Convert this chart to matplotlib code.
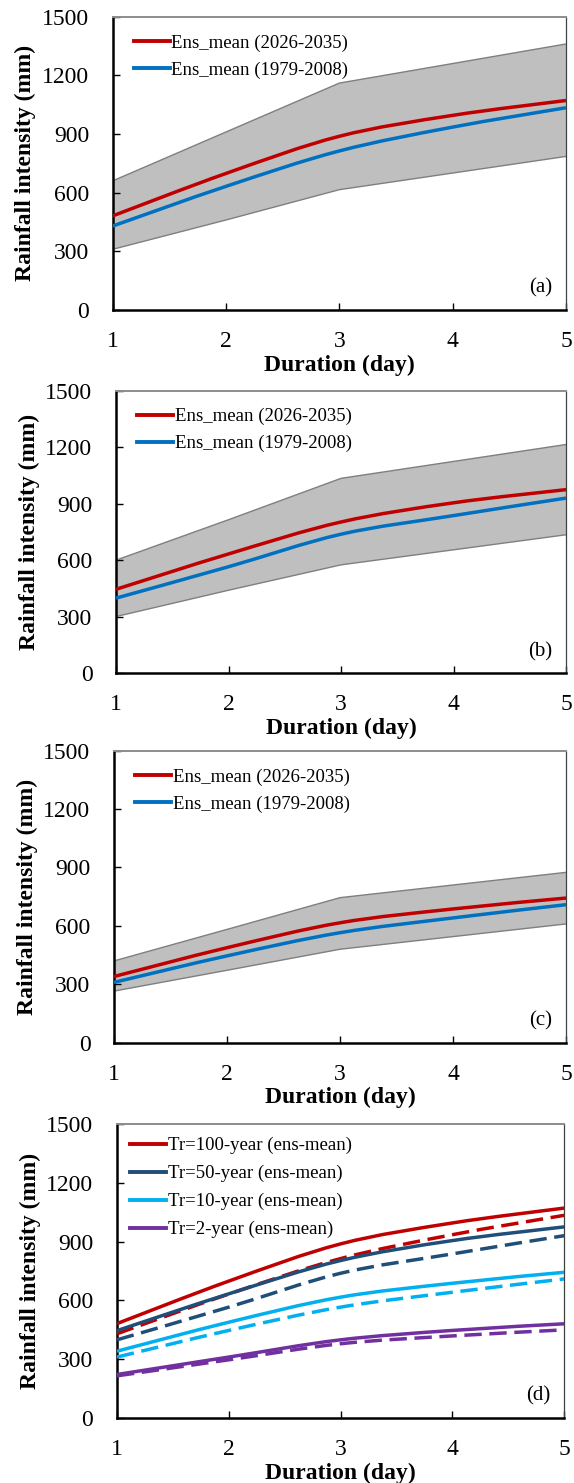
import numpy as np
import matplotlib.pyplot as plt
from matplotlib.path import Path
from matplotlib.patches import PathPatch
from matplotlib.lines import Line2D

plt.rcParams['font.family'] = ['Liberation Serif', 'DejaVu Serif']

# Duration (day)
days = [1, 2, 3, 4, 5]

# Panel (a): Tr = 100-year
a_future = [481, 698, 888, 995, 1071]
a_hist = [429, 632, 813, 935, 1034]
a_upper = [660, 910, 1160, 1260, 1360]
a_lower = [310, 460, 615, 700, 785]

# Panel (b): Tr = 50-year
b_future = [445, 633, 803, 905, 975]
b_hist = [398, 565, 738, 837, 930]
b_upper = [600, 815, 1035, 1125, 1215]
b_lower = [300, 440, 575, 655, 735]

# Panel (c): Tr = 10-year
c_future = [340, 488, 616, 687, 743]
c_hist = [310, 446, 565, 641, 709]
c_upper = [420, 582, 745, 810, 875]
c_lower = [265, 372, 480, 545, 610]

# Panel (d): Tr = 2-year (the others reuse panels a-c)
d2_future = [221, 310, 398, 446, 480]
d2_hist = [214, 296, 378, 418, 449]

red = '#C00000'
blue = '#0070C0'
navy = '#1F4E79'
cyan = '#00B0F0'
purple = '#7030A0'

fs_tick = 17
fs_leg = 13.5


def smooth_line(ax, x, y, color, ls='-', lw=2.5):
    # Excel-style smoothed line drawn as cubic bezier path
    x = np.asarray(x, float)
    y = np.asarray(y, float)
    pts = np.column_stack([x, y])
    n = len(pts)
    verts = [pts[0]]
    codes = [Path.MOVETO]
    for i in range(n - 1):
        p0 = pts[i - 1] if i > 0 else pts[i]
        p1 = pts[i]
        p2 = pts[i + 1]
        p3 = pts[i + 2] if i + 2 < n else pts[i + 1]
        c1 = p1 + (p2 - p0) / 6.0
        c2 = p2 - (p3 - p1) / 6.0
        verts += [c1, c2, p2]
        codes += [Path.CURVE4] * 3
    patch = PathPatch(Path(verts, codes), facecolor='none', edgecolor=color,
                      lw=lw, linestyle=ls, capstyle='butt', zorder=3)
    ax.add_patch(patch)


def style_axes(ax, tag):
    ax.set_xlim(1, 5)
    ax.set_ylim(0, 1500)
    ax.set_xticks([1, 2, 3, 4, 5])
    ax.set_yticks([0, 300, 600, 900, 1200, 1500])
    ax.tick_params(direction='in', length=5, width=1, labelsize=fs_tick)
    ax.tick_params(axis='y', pad=17)
    ax.tick_params(axis='x', pad=15)
    ax.spines['left'].set_linewidth(1.8)
    ax.spines['bottom'].set_linewidth(1.8)
    ax.spines['top'].set_color('#8C8C8C')
    ax.spines['top'].set_linewidth(1.4)
    ax.spines['right'].set_color('#404040')
    ax.spines['right'].set_linewidth(0.9)
    ax.set_xlabel('Duration (day)', fontsize=17, fontweight='bold', labelpad=2)
    ax.set_ylabel('Rainfall intensity (mm)', fontsize=17, fontweight='bold', labelpad=4)
    ax.text(0.97, 0.075, tag, transform=ax.transAxes, ha='right', va='center', fontsize=15)


def band_panel(ax, future, hist, upper, lower, tag):
    ax.fill_between(days, lower, upper, facecolor='#BFBFBF', edgecolor='none', zorder=1)
    ax.plot(days, upper, color='#7F7F7F', lw=1, zorder=2)
    ax.plot(days, lower, color='#7F7F7F', lw=1, zorder=2)
    smooth_line(ax, days, future, red)
    smooth_line(ax, days, hist, blue)
    handles = [Line2D([], [], color=red, lw=2.8), Line2D([], [], color=blue, lw=2.8)]
    ax.legend(handles, ['Ens_mean (2026-2035)', 'Ens_mean (1979-2008)'],
              loc='upper left', bbox_to_anchor=(0.047, 0.939), frameon=False,
              fontsize=fs_leg, handlelength=1.9, handletextpad=0.1,
              labelspacing=0.51, borderpad=0, borderaxespad=0)
    style_axes(ax, tag)


fig = plt.figure(figsize=(5.74, 14.83), dpi=100)
ax_a = fig.add_axes([0.1963, 0.7910, 0.7897, 0.1978])
ax_b = fig.add_axes([0.2021, 0.5462, 0.7840, 0.1902])
ax_c = fig.add_axes([0.1986, 0.2969, 0.7875, 0.1969])
ax_d = fig.add_axes([0.2038, 0.0440, 0.7790, 0.1980])

band_panel(ax_a, a_future, a_hist, a_upper, a_lower, '(a)')
band_panel(ax_b, b_future, b_hist, b_upper, b_lower, '(b)')
band_panel(ax_c, c_future, c_hist, c_upper, c_lower, '(c)')

# Panel (d): solid = 2026-2035, dashed = 1979-2008
series_d = [(a_future, a_hist, red, 'Tr=100-year (ens-mean)'),
            (b_future, b_hist, navy, 'Tr=50-year (ens-mean)'),
            (c_future, c_hist, cyan, 'Tr=10-year (ens-mean)'),
            (d2_future, d2_hist, purple, 'Tr=2-year (ens-mean)')]
handles = []
labels = []
for fut, hist, col, lab in series_d:
    smooth_line(ax_d, days, hist, col, ls=(0, (5, 2.2)))
    smooth_line(ax_d, days, fut, col)
    handles.append(Line2D([], [], color=col, lw=2.8))
    labels.append(lab)
ax_d.legend(handles, labels, loc='upper left', bbox_to_anchor=(0.03, 0.956),
            frameon=False, fontsize=fs_leg, handlelength=1.9, handletextpad=0.1,
            labelspacing=0.57, borderpad=0, borderaxespad=0)
style_axes(ax_d, '(d)')

fig.savefig('out.png', dpi=100)
